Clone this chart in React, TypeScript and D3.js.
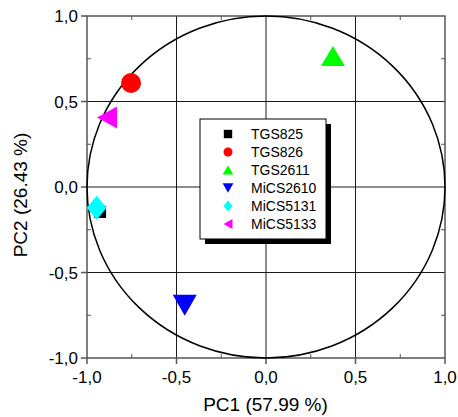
import React from "react";
import * as d3 from "d3";

const seriesNames = ["TGS825", "TGS826", "TGS2611", "MiCS2610", "MiCS5131", "MiCS5133"];
const pc1Values = [-0.927, -0.754, 0.374, -0.454, -0.946, -0.888];
const pc2Values = [-0.146, 0.608, 0.766, -0.692, -0.122, 0.406];
const seriesColors = ["#000000", "#ff0000", "#00ff00", "#0000ff", "#00ffff", "#ff00ff"];
const seriesShapes = ["square", "circle", "up", "down", "diamond", "left"];
const majorTicks = [-1, -0.5, 0, 0.5, 1];
const minorTicks = [-0.75, -0.25, 0.25, 0.75];
const tickLabels = ["-1,0", "-0,5", "0,0", "0,5", "1,0"];
const xTitle = "PC1 (57.99 %)";
const yTitle = "PC2 (26.43 %)";

const W = 458, H = 417;
const L = 87, R = 445, T = 16, B = 358;

function markerPath(shape: string, s: number): string {
  switch (shape) {
    case "square": { const h = 6 * s; return `M${-h},${-h}H${h}V${h}H${-h}Z`; }
    case "up": { const w = 12 * s, h = 10 * s; return `M0,${-h}L${w},${h}L${-w},${h}Z`; }
    case "down": { const w = 12 * s, h = 10.5 * s; return `M0,${h}L${w},${-h}L${-w},${-h}Z`; }
    case "left": { const w = 10 * s, h = 11 * s; return `M${-w},0L${w},${-h}L${w},${h}Z`; }
    case "diamond": { const w = 10 * s, h = 12 * s; return `M0,${-h}L${w},0L0,${h}L${-w},0Z`; }
    default: return "";
  }
}

export default function App() {
  const x = d3.scaleLinear().domain([-1, 1]).range([L, R]);
  const y = d3.scaleLinear().domain([-1, 1]).range([B, T]);
  const frame = "#555";
  const grid = "#1a1a1a";
  const font = "Liberation Sans, Arial, sans-serif";

  const legendX = 200, legendY = 119, legendW = 126, legendH = 120;
  const legendRows = seriesNames.map((_, i) => legendY + 15 + i * 18);

  return (
    <svg width={W} height={H} style={{ position: "absolute", left: 0, top: 0, background: "#fff" }}>
      <rect x={0} y={0} width={W} height={H} fill="#fff" />
      {majorTicks.slice(1, -1).map((t) => (
        <g key={"g" + t}>
          <line x1={x(t)} x2={x(t)} y1={T} y2={B} stroke={grid} strokeWidth={1} />
          <line x1={L} x2={R} y1={y(t)} y2={y(t)} stroke={grid} strokeWidth={1} />
        </g>
      ))}
      {minorTicks.map((t) => (
        <g key={"m" + t} stroke={frame} strokeWidth={1}>
          <line x1={x(t)} x2={x(t)} y1={B} y2={B - 4} />
          <line x1={x(t)} x2={x(t)} y1={T} y2={T + 4} />
          <line x1={L} x2={L + 4} y1={y(t)} y2={y(t)} />
          <line x1={R} x2={R - 4} y1={y(t)} y2={y(t)} />
        </g>
      ))}
      {majorTicks.map((t) => (
        <g key={"M" + t} stroke={frame} strokeWidth={1.5}>
          <line x1={x(t)} x2={x(t)} y1={B} y2={B + 6} />
          <line x1={L - 6} x2={L} y1={y(t)} y2={y(t)} />
        </g>
      ))}
      <rect x={L} y={T} width={R - L} height={B - T} fill="none" stroke={frame} strokeWidth={1.5} />
      <ellipse cx={x(0)} cy={y(0)} rx={x(1) - x(0)} ry={y(0) - y(1)} fill="none" stroke="#000" strokeWidth={1.5} />
      {majorTicks.map((t, i) => (
        <text key={"xl" + t} x={x(t)} y={B + 25} textAnchor="middle" fontFamily={font} fontSize={17} fill="#000">
          {tickLabels[i]}
        </text>
      ))}
      {majorTicks.map((t, i) => (
        <text key={"yl" + t} x={L - 9} y={y(t) + 6} textAnchor="end" fontFamily={font} fontSize={17} fill="#000">
          {tickLabels[i]}
        </text>
      ))}
      <text x={(L + R) / 2 - 0.5} y={411} textAnchor="middle" fontFamily={font} fontSize={19} fill="#000">
        {xTitle}
      </text>
      <text transform={`translate(27,${(T + B) / 2 + 8}) rotate(-90)`} textAnchor="middle" fontFamily={font} fontSize={19} fill="#000">
        {yTitle}
      </text>
      {seriesNames.map((n, i) =>
        seriesShapes[i] === "circle" ? (
          <circle key={n} cx={x(pc1Values[i])} cy={y(pc2Values[i])} r={10} fill={seriesColors[i]} />
        ) : (
          <path key={n} transform={`translate(${x(pc1Values[i])},${y(pc2Values[i])})`} d={markerPath(seriesShapes[i], 1)} fill={seriesColors[i]} />
        )
      )}
      <rect x={legendX + 5} y={legendY + 5} width={legendW} height={legendH} fill="#000" />
      <rect x={legendX} y={legendY} width={legendW} height={legendH} fill="#fff" stroke="#000" strokeWidth={1} />
      {seriesNames.map((n, i) => (
        <g key={"lg" + n}>
          {seriesShapes[i] === "circle" ? (
            <circle cx={legendX + 28} cy={legendRows[i]} r={4.5} fill={seriesColors[i]} />
          ) : (
            <path transform={`translate(${legendX + 28},${legendRows[i]})`} d={markerPath(seriesShapes[i], seriesShapes[i] === "square" ? 0.7 : 0.45)} fill={seriesColors[i]} />
          )}
          <text x={legendX + 51} y={legendRows[i] + 5} fontFamily={font} fontSize={14} fill="#000">
            {n}
          </text>
        </g>
      ))}
    </svg>
  );
}
